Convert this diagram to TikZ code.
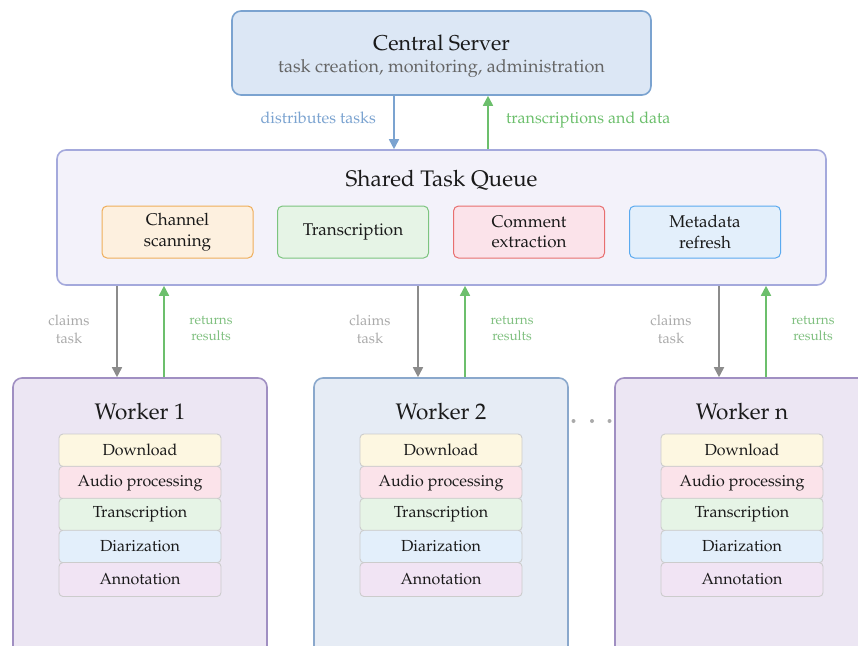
\documentclass[tikz,border=0pt]{standalone}
\usepackage[T1]{fontenc}
\usepackage{mathpazo}
\usetikzlibrary{arrows.meta, positioning}

% colours
\definecolor{srvfill}{HTML}{DCE7F5}
\definecolor{srvline}{HTML}{7BA3D0}
\definecolor{qfill}{HTML}{F3F2FA}
\definecolor{qline}{HTML}{A4A9DC}
\definecolor{orfill}{HTML}{FDF0DF}
\definecolor{orline}{HTML}{EFAE5A}
\definecolor{grfill}{HTML}{E6F4E6}
\definecolor{grline}{HTML}{7CC47F}
\definecolor{rdfill}{HTML}{FBE3EA}
\definecolor{rdline}{HTML}{E86F6F}
\definecolor{blfill}{HTML}{E3EFFB}
\definecolor{blline}{HTML}{5AAAF0}
\definecolor{wpfill}{HTML}{ECE6F3}
\definecolor{wpline}{HTML}{A08FC2}
\definecolor{wbfill}{HTML}{E6ECF5}
\definecolor{wbline}{HTML}{8AA8CC}
\definecolor{stline}{HTML}{CCCCCC}
\definecolor{dlfill}{HTML}{FDF7E1}
\definecolor{anfill}{HTML}{F1E4F4}
\definecolor{arrgreen}{HTML}{6CBF6C}
\definecolor{arrgray}{HTML}{8C8C8C}
\definecolor{lblgray}{HTML}{AAAAAA}
\definecolor{lblgreen}{HTML}{80C080}
\definecolor{subgray}{HTML}{666666}
\definecolor{ink}{HTML}{1A1A1A}

\begin{document}
\begin{tikzpicture}[x=1pt, y=-1pt,
    box/.style={draw, rounded corners=9pt, line width=1.6pt},
    task/.style={draw, rounded corners=5pt, line width=1pt, minimum width=151pt,
        minimum height=52pt, align=center, text=ink,
        font=\fontsize{17}{20.5}\selectfont},
    stage/.style={draw=stline, rounded corners=4pt, line width=0.9pt,
        minimum width=162pt, minimum height=32.5pt, text=ink,
        font=\fontsize{16}{18}\selectfont},
    title/.style={text=ink, font=\fontsize{22.5}{25}\selectfont},
    flow/.style={-{Triangle[length=10pt, width=10pt]}, line width=1.7pt},
    note/.style={align=center, font=\fontsize{14.5}{18}\selectfont}]

    \clip (0,0) rectangle (858,645);

    % --- central server ---
    \node[box, draw=srvline, fill=srvfill, minimum width=419pt, minimum height=84pt] (srv) at (441.5,53) {};
    \node[title, font=\fontsize{21.5}{24}\selectfont] (srvtitle) at (441.5,43) {Central Server};
    \node[text=subgray, font=\fontsize{18}{20}\selectfont] (srvsub) at (441.5,69) {task creation, monitoring, administration};

    % --- shared queue ---
    \node[box, draw=qline, fill=qfill, minimum width=769pt, minimum height=135pt] (queue) at (441.5,217.5) {};
    \node[title] (qtitle) at (441.5,180) {Shared Task Queue};
    \node[task, draw=orline, fill=orfill] (tchan) at (177.5,232) {Channel\\scanning};
    \node[task, draw=grline, fill=grfill] (ttrans) at (353,232) {Transcription};
    \node[task, draw=rdline, fill=rdfill] (tcomm) at (529,232) {Comment\\extraction};
    \node[task, draw=blline, fill=blfill] (tmeta) at (705,232) {Metadata\\refresh};

    % server <-> queue
    \draw[flow, srvline] ([xshift=-47.5pt]srv.south) -- ([xshift=-47.5pt]queue.north)
        node[pos=0.42, left=14pt, font=\fontsize{16}{18}\selectfont] {distributes tasks};
    \draw[flow, arrgreen] ([xshift=46.5pt]queue.north) -- ([xshift=46.5pt]srv.south)
        node[pos=0.55, right=14pt, font=\fontsize{16}{18}\selectfont] {transcriptions and data};

    % --- workers ---
    \foreach \name/\lbl/\cx/\wf/\wl in {w1/1/140/wpfill/wpline, w2/2/441/wbfill/wbline, wn/n/742/wpfill/wpline}{
        \node[box, draw=\wl, fill=\wf, minimum width=254pt, minimum height=300pt] (\name) at (\cx,528) {};
        \node[title] (\name-title) at (\cx,412) {Worker \lbl};
        \node[stage, fill=dlfill] (\name-s1) at (\cx,450.25) {Download};
        \node[stage, fill=rdfill] (\name-s2) at (\cx,482.5) {Audio processing};
        \node[stage, fill=grfill] (\name-s3) at (\cx,514.5) {Transcription};
        \node[stage, fill=blfill] (\name-s4) at (\cx,546.5) {Diarization};
        \node[stage, fill=anfill, minimum height=34pt] (\name-s5) at (\cx,579.5) {Annotation};

        % queue <-> worker
        \draw[flow, arrgray] ([xshift=-23pt]\name.north |- queue.south) -- ([xshift=-23pt]\name.north);
        \draw[flow, arrgreen] ([xshift=24pt]\name.north) -- ([xshift=24pt]\name.north |- queue.south);
        \node[note, text=lblgray] (\name-claim) at (\cx-71,329) {claims\\task};
        \node[note, text=lblgreen, font=\fontsize{13.5}{16}\selectfont] (\name-ret) at (\cx+71,329) {returns\\results};
    }

    % dots between workers
    \foreach \x in {573.5,592,609.5} \fill[lblgray] (\x,421) circle (2pt);

\end{tikzpicture}
\end{document}
